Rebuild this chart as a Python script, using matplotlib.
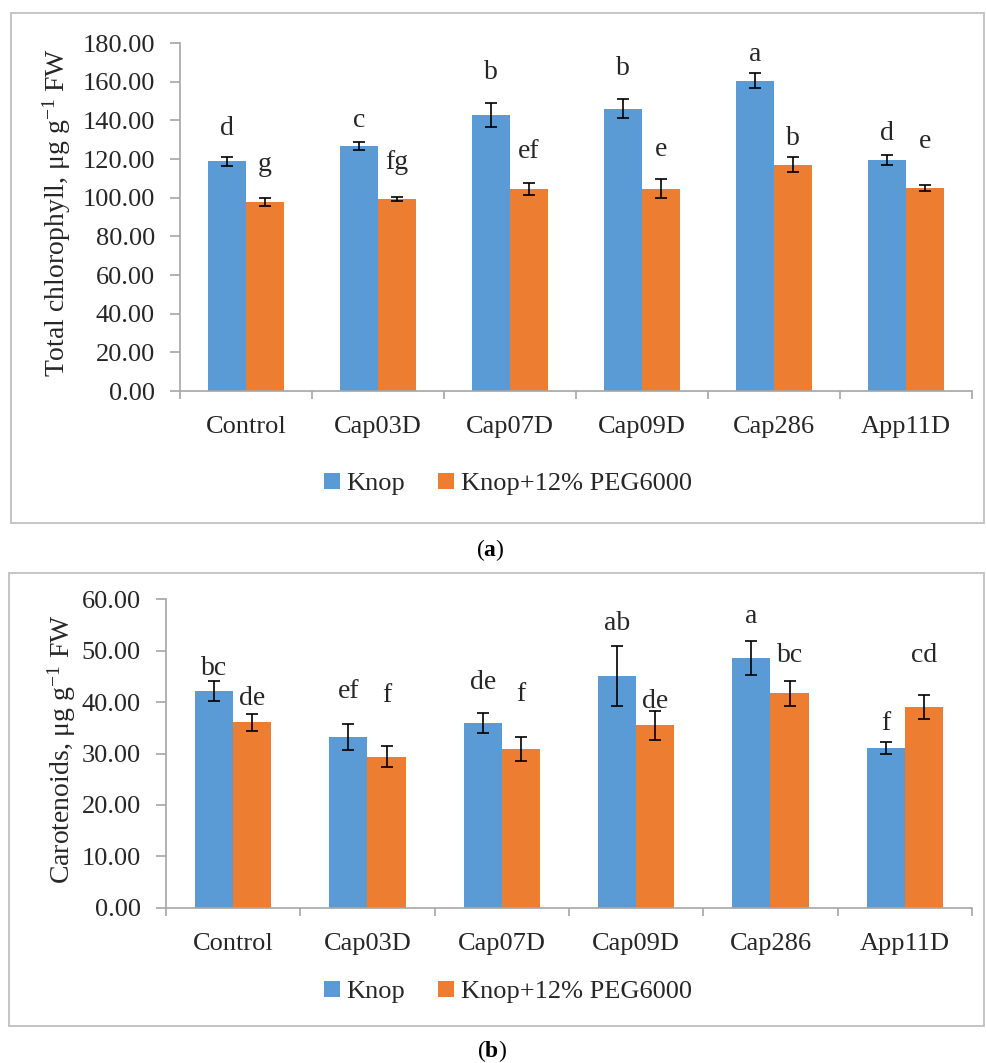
import matplotlib
matplotlib.use('Agg')
import matplotlib.pyplot as plt
import numpy as np
from matplotlib.patches import Rectangle

plt.rcParams['font.family'] = ['Liberation Serif', 'DejaVu Serif']
plt.rcParams['mathtext.fontset'] = 'custom'
plt.rcParams['mathtext.rm'] = 'Liberation Serif'
plt.rcParams['mathtext.it'] = 'Liberation Serif:italic'
plt.rcParams['mathtext.bf'] = 'Liberation Serif:bold'

# data
categories = ['Control', 'Cap03D', 'Cap07D', 'Cap09D', 'Cap286', 'App11D']
series_names = ['Knop', 'Knop+12% PEG6000']

chl_knop = [118.8, 126.6, 142.8, 146.0, 160.5, 119.5]
chl_knop_err = [2.2, 2.2, 6.4, 4.8, 4.0, 2.4]
chl_peg = [97.6, 99.3, 104.5, 104.5, 117.1, 105.0]
chl_peg_err = [2.0, 1.2, 3.3, 4.9, 3.7, 1.5]
chl_knop_letters = ['d', 'c', 'b', 'b', 'a', 'd']
chl_knop_letter_y = [136, 139.7, 164.5, 166.6, 174.2, 133.3]
chl_peg_letters = ['g', 'fg', 'ef', 'e', 'b', 'e']
chl_peg_letter_y = [117, 118, 123.8, 124.7, 130.7, 129]

car_knop = [42.2, 33.2, 35.9, 45.1, 48.6, 31.1]
car_knop_err = [1.9, 2.45, 2.0, 5.9, 3.25, 1.15]
car_peg = [36.1, 29.4, 30.9, 35.5, 41.7, 39.0]
car_peg_err = [1.65, 2.0, 2.3, 2.8, 2.5, 2.3]
car_knop_letters = ['bc', 'ef', 'de', 'ab', 'a', 'f']
car_knop_letter_y = [46.6, 42.0, 43.8, 55.3, 56.6, 35.9]
car_peg_letters = ['de', 'f', 'f', 'de', 'bc', 'cd']
car_peg_letter_y = [40.7, 41.2, 41.4, 40.1, 49.0, 49.0]

blue = '#5B9BD5'
orange = '#ED7D31'
grey = '#A6A6A6'
txt = '#262626'
W, H = 987, 1063
fs = 19

fig = plt.figure(figsize=(W / 100, H / 100), dpi=100)


def px_axes(left, right, top, bottom):
    return fig.add_axes([left / W, 1 - bottom / H, (right - left) / W, (bottom - top) / H])


def box(left, right, top, bottom):
    fig.patches.append(Rectangle((left / W, 1 - bottom / H), (right - left) / W, (bottom - top) / H,
                                 transform=fig.transFigure, fill=False, edgecolor='#BFBFBF', lw=1.3))


def panel(ax, knop, knop_err, peg, peg_err, kl, kly, pl, ply, ymax, step, ylabel, ylabel_x, legend_y):
    x = np.arange(len(categories))
    w = 0.285
    ax.bar(x - w / 2, knop, w, color=blue, label=series_names[0], zorder=2)
    ax.bar(x + w / 2, peg, w, color=orange, label=series_names[1], zorder=2)
    ax.errorbar(x - w / 2, knop, yerr=knop_err, fmt='none', ecolor='black', elinewidth=1.2,
                capsize=4, capthick=1.2, zorder=3)
    ax.errorbar(x + w / 2, peg, yerr=peg_err, fmt='none', ecolor='black', elinewidth=1.2,
                capsize=4, capthick=1.2, zorder=3)
    for i in range(len(categories)):
        ax.text(x[i] - w / 2, kly[i], kl[i], ha='center', va='center', fontsize=20, color=txt)
        ax.text(x[i] + w / 2, ply[i], pl[i], ha='center', va='center', fontsize=20, color=txt)
    ax.set_xlim(-0.5, len(categories) - 0.5)
    ax.set_ylim(0, ymax)
    yt = np.arange(0, ymax + step / 2, step)
    ax.set_yticks(yt)
    ax.set_yticklabels(['%.2f' % v for v in yt])
    ax.set_xticks(x)
    ax.set_xticklabels(categories)
    ax.set_xticks(np.arange(-0.5, len(categories)), minor=True)
    for s in ['top', 'right']:
        ax.spines[s].set_visible(False)
    for s in ['left', 'bottom']:
        ax.spines[s].set_color(grey)
        ax.spines[s].set_linewidth(1.2)
    ax.tick_params(axis='y', length=7, width=1.2, color=grey, pad=11, labelsize=fs, labelcolor=txt)
    ax.tick_params(axis='x', which='major', length=0, pad=18, labelsize=fs, labelcolor=txt)
    ax.tick_params(axis='x', which='minor', length=6, width=1.2, color=grey, direction='out')
    pos = ax.get_position()
    fig.text(ylabel_x / W, (pos.y0 + pos.y1) / 2 + 0.004, ylabel, rotation=90, ha='center', va='center',
             fontsize=20, color=txt)
    ax.legend(loc='center', bbox_to_anchor=(508 / W, 1 - legend_y / H), bbox_transform=fig.transFigure,
              ncol=2, frameon=False, fontsize=fs, handlelength=0.6, handleheight=0.6,
              handletextpad=0.25, columnspacing=1.25, labelcolor=txt)


box(11, 984, 13, 523)
ax1 = px_axes(180, 972, 43, 391)
panel(ax1, chl_knop, chl_knop_err, chl_peg, chl_peg_err, chl_knop_letters, chl_knop_letter_y,
      chl_peg_letters, chl_peg_letter_y, 180, 20, r'Total chlorophyll, μg g$^{-1}$ FW', 57, 484)
fig.text(490 / W, 1 - 550 / H, r'($\mathbf{a}$)', ha='center', va='center', fontsize=17)

box(9, 984, 573, 1026)
ax2 = px_axes(166, 972, 599.3, 907.7)
panel(ax2, car_knop, car_knop_err, car_peg, car_peg_err, car_knop_letters, car_knop_letter_y,
      car_peg_letters, car_peg_letter_y, 60, 10, r'Carotenoids, μg g$^{-1}$ FW', 62, 992)
fig.text(492 / W, 1 - 1051 / H, r'($\mathbf{b}$)', ha='center', va='center', fontsize=17)

fig.savefig('out.png', dpi=100)
